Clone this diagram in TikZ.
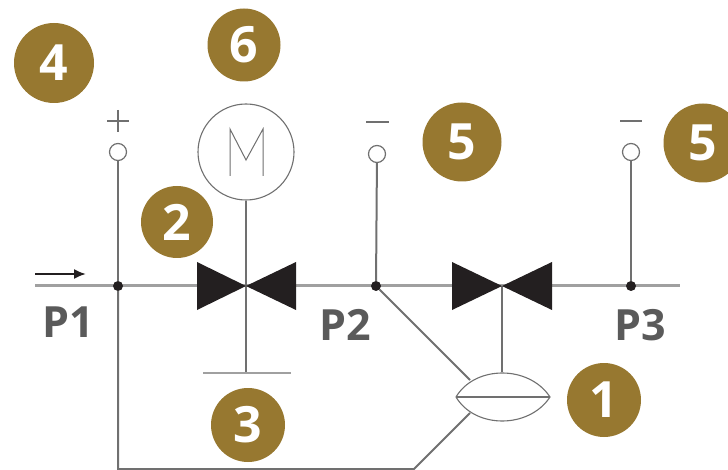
\documentclass[tikz,border=0pt]{standalone}
\usetikzlibrary{arrows.meta}
\usepackage{fontspec}
\setmainfont{Open Sans}
\definecolor{gold}{HTML}{977830}
\definecolor{pipe}{HTML}{A0A0A0}
\definecolor{wire}{HTML}{707070}
\definecolor{ink}{HTML}{231F20}
\definecolor{lab}{HTML}{5A5A5A}
\tikzset{
  badge/.style={circle,fill=gold,minimum size=#1,inner sep=0pt,text=white,font=\fontsize{50}{50}\selectfont\bfseries},
  plab/.style={text=lab,font=\fontsize{43}{43}\selectfont\bfseries,inner sep=0pt},
  port/.style={circle,draw=wire,fill=white,line width=1.2pt,minimum size=17pt,inner sep=0pt},
  dot/.style={circle,fill=ink,minimum size=10pt,inner sep=0pt},
  pipeline/.style={draw=pipe,line width=3pt},
  wireline/.style={draw=wire,line width=2pt},
  valveshape/.style={fill=ink,draw=none},
  signtext/.style={draw=wire,line width=1.6pt}
}
\begin{document}
\begin{tikzpicture}[x=1pt,y=-1pt]
\useasboundingbox (0,0) rectangle (728,470);
% coordinates
\coordinate (inlet) at (35,286);
\coordinate (outlet) at (680,286);
\coordinate (v1) at (246,286);
\coordinate (v2) at (502,286);
\coordinate (bar) at (246,373);
\coordinate (barL) at (203,373);
\coordinate (barR) at (291,373);
\coordinate (corner) at (118,469);
\coordinate (lensL) at (456,397);
\coordinate (lensR) at (550,397);
\coordinate (lensT) at (502,372);
\coordinate (lensUp) at (470,380);
\coordinate (lensLow) at (470,413);
\coordinate (elbow) at (414,469);
\coordinate (arrowA) at (35,274);
\coordinate (arrowB) at (86,274);
% main pipe
\draw[pipeline] (inlet) -- (outlet);
% junctions and ports
\node[dot] (j1) at (118,286) {};
\node[dot] (j2) at (376,286) {};
\node[dot] (j3) at (631,286) {};
\node[port] (p1) at (118,152) {};
\node[port] (p2) at (377,154) {};
\node[port] (p3) at (631,152) {};
\draw[wireline] (p1) -- (j1);
\draw[wireline] (p2) -- (j2);
\draw[wireline] (p3) -- (j3);
% motor
\node[circle,draw=wire,line width=1.1pt,fill=white,minimum size=96pt,inner sep=0pt] (motor) at (246,152) {};
\draw[draw=wire,line width=1pt] (230,176) -- (230,129) -- (246,160) -- (263,129) -- (263,176);
\draw[wireline] (motor) -- (bar);
\draw[pipeline,line width=2.4pt] (barL) -- (barR);
% feedback lines
\draw[wireline] (j1) -- (corner) -- (elbow) -- (lensLow);
\draw[wireline] (j2) -- (lensUp);
\draw[wireline] (v2) -- (lensT);
% lens
\draw[draw=wire,line width=1.1pt,fill=white] (lensL) .. controls (475,365) and (529,365) .. (lensR) .. controls (529,429) and (475,429) .. cycle;
\draw[wireline] (lensL) -- (lensR);
% valves
\fill[valveshape] (v1) -- (197,262) -- (197,310) -- cycle;
\fill[valveshape] (v1) -- (296,262) -- (296,310) -- cycle;
\fill[valveshape] (v2) -- (452,262) -- (452,310) -- cycle;
\fill[valveshape] (v2) -- (552,262) -- (552,310) -- cycle;
% arrow
\draw[draw=ink,line width=2pt,-{Latex[length=12pt,width=10pt]}] (arrowA) -- (arrowB);
% signs
\draw[signtext] (107,121) -- (129,121) (118,110) -- (118,132);
\draw[signtext] (366,122) -- (389,122);
\draw[signtext] (620,121) -- (642,121);
% labels
\node[plab] (P1) at (68,322) {P1};
\node[plab] (P2) at (345,325) {P2};
\node[plab] (P3) at (640,325) {P3};
% badges
\node[badge=80pt] (b4) at (54,63) {4};
\node[badge=73pt] (b6) at (244,45) {6};
\node[badge=72pt] (b2) at (177,222) {2};
\node[badge=74pt] (b3) at (248,425) {3};
\node[badge=74pt] (b1) at (604,400) {1};
\node[badge=79pt] (b5a) at (462,142) {5};
\node[badge=79pt] (b5b) at (703,143) {5};
\end{tikzpicture}
\end{document}
